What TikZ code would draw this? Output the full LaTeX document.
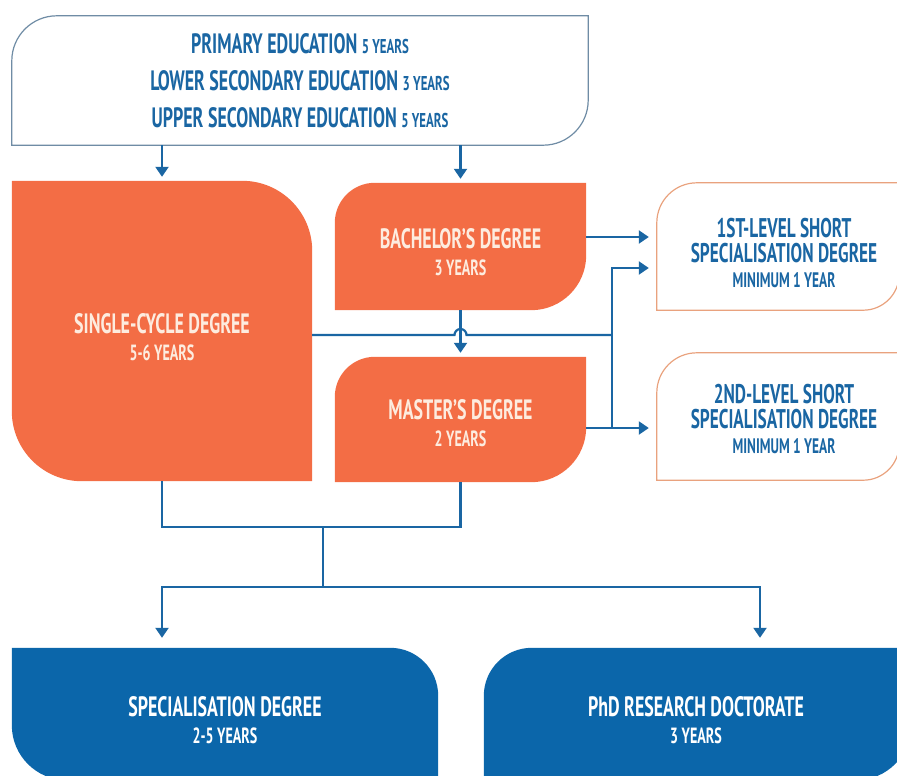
\documentclass[tikz,border=0pt]{standalone}
\usepackage{fontspec}
\setmainfont{PT Sans}[FakeStretch=0.64]
\usepackage{tikz}
\usetikzlibrary{arrows.meta,backgrounds}
\definecolor{orng}{HTML}{F36D45}
\definecolor{navy}{HTML}{0B66AA}
\definecolor{ink}{HTML}{1A66A3}
\definecolor{frame}{HTML}{6F8CA5}
\definecolor{peach}{HTML}{E9A27E}
\definecolor{cream}{HTML}{FDECDF}
\tikzset{
  box/.style={rectangle, inner sep=0pt},
  line/.style={draw=ink, line width=2.2pt},
  arr/.style={line, -{Triangle[width=13pt,length=10pt]}, shorten >=4pt},
  olab/.style={text=cream, align=center, font=\bfseries\fontsize{28}{27}\selectfont},
  blab/.style={text=ink, align=center, font=\bfseries\fontsize{27}{25}\selectfont},
  toplab/.style={text=ink, align=center, font=\bfseries\fontsize{28}{37}\selectfont}
}
% leaf shapes: rounded top-left & bottom-right / top-right & bottom-left
\newcommand{\leafA}[4]{%
  \path[#2] ([yshift=-#3]#1.north west) arc[start angle=180,end angle=90,radius=#3]
    -- (#1.north east) -- ([yshift=#4]#1.south east) arc[start angle=0,end angle=-90,radius=#4]
    -- (#1.south west) -- cycle;}
\newcommand{\leafB}[4]{%
  \path[#2] (#1.north west) -- ([xshift=-#3]#1.north east) arc[start angle=90,end angle=0,radius=#3]
    -- (#1.south east) -- ([xshift=#4]#1.south west) arc[start angle=270,end angle=180,radius=#4]
    -- cycle;}
\newcommand{\yrs}[1]{{\fontsize{22}{27}\selectfont #1}}
\newcommand{\yrsmin}[1]{{\fontsize{21}{23}\selectfont #1}}
\newcommand{\yrsmall}[1]{{\fontsize{20}{37}\selectfont #1}}

\begin{document}
\begin{tikzpicture}[x=1pt,y=-1pt]
  \clip (0,0) rectangle (897,776);

  \node[box, minimum width=576pt, minimum height=129pt,
    label={[toplab]center:{PRIMARY EDUCATION \yrsmall{5 YEARS}\\
      LOWER SECONDARY EDUCATION \yrsmall{3 YEARS}\\
      UPPER SECONDARY EDUCATION \yrsmall{5 YEARS}}}] (school) at (300,80.5) {};

  \node[box, minimum width=300pt, minimum height=300pt,
    label={[olab, yshift=-6pt]center:{SINGLE-CYCLE DEGREE\\ \yrs{5-6 YEARS}}}] (single) at (162,331) {};
  \node[box, minimum width=251pt, minimum height=127pt,
    label={[olab, yshift=-6pt]center:{BACHELOR’S DEGREE\\ \yrs{3 YEARS}}}] (bach) at (460.5,246.5) {};
  \node[box, minimum width=251pt, minimum height=125pt,
    label={[olab, yshift=-4pt]center:{MASTER’S DEGREE\\ \yrs{2 YEARS}}}] (master) at (460.5,419.5) {};

  \node[box, minimum width=242pt, minimum height=127pt,
    label={[blab, xshift=6pt, yshift=-6pt]center:{1ST-LEVEL SHORT\\ SPECIALISATION DEGREE\\ \yrsmin{MINIMUM 1 YEAR}}}] (first) at (778,246.5) {};
  \node[box, minimum width=242pt, minimum height=127pt,
    label={[blab, xshift=6pt, yshift=-2pt]center:{2ND-LEVEL SHORT\\ SPECIALISATION DEGREE\\ \yrsmin{MINIMUM 1 YEAR}}}] (second) at (778,416.5) {};

  \node[box, minimum width=426pt, minimum height=132pt,
    label={[olab, text=white, yshift=-6pt]center:{SPECIALISATION DEGREE\\ \yrs{2-5 YEARS}}}] (spec) at (225,714) {};
  \node[box, minimum width=427pt, minimum height=132pt,
    label={[olab, text=white, xshift=-1.5pt, yshift=-6pt]center:{PhD RESEARCH DOCTORATE\\ \yrs{3 YEARS}}}] (phd) at (697.5,714) {};

  \begin{scope}[on background layer]
    \leafA{school}{draw=frame, line width=1.2pt, fill=white}{45pt}{45pt}
    \leafB{single}{fill=orng}{70pt}{70pt}
    \leafA{bach}{fill=orng}{40pt}{55pt}
    \leafA{master}{fill=orng}{40pt}{55pt}
    \leafA{first}{draw=peach, line width=1.2pt}{40pt}{36pt}
    \leafA{second}{draw=peach, line width=1.2pt}{40pt}{36pt}
    \leafB{spec}{fill=navy}{48pt}{55pt}
    \leafA{phd}{fill=navy}{48pt}{55pt}
  \end{scope}

  \coordinate (hop) at ([yshift=-4pt]single.east -| bach.south);
  \coordinate (bus1) at (612,268);
  \coordinate (bus2) at (612,428);
  \coordinate (mid) at (323,527);
  \coordinate (fork) at (323,587);

  % school -> first degrees
  \draw[arr] (school.south -| single.north) -- (single.north);
  \draw[arr] (school.south -| bach.north) -- (bach.north);
  \draw[arr] (bach.south) -- (master.north);

  % to the short specialisation degrees
  \draw[line] ([yshift=-4pt]single.east) -- ([xshift=-6pt]hop)
    arc[start angle=180,end angle=0,radius=6pt] -- (hop -| bus1);
  \draw[arr, shorten >=8pt] (bus2) -- (bus1) -- (bus1 -| first.west);
  \draw[arr, shorten >=8pt] ([yshift=9.5pt]bach.east) -- ([yshift=9.5pt]bach.east -| first.west);
  \draw[arr, shorten >=8pt] (master.east |- bus2) -- (bus2 -| second.west);

  % to specialisation and PhD
  \draw[line] (single.south) |- (mid) -| (master.south);
  \draw[line] (mid) -- (fork);
  \draw[arr, shorten >=10pt] (fork) -| (spec.north -| single.south);
  \draw[arr, shorten >=10pt] (fork) -| ([xshift=62.5pt]phd.north);
\end{tikzpicture}
\end{document}
